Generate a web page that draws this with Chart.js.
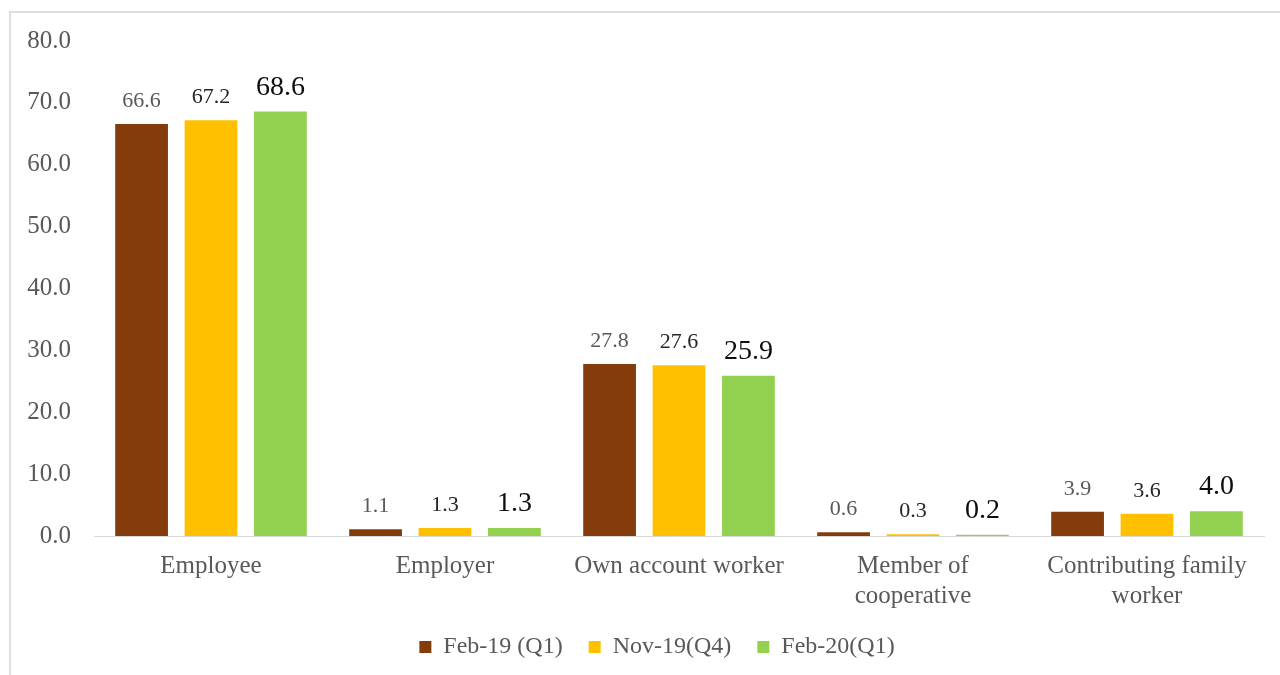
<!DOCTYPE html>
<html>
<head>
<meta charset="utf-8">
<script src="https://cdn.jsdelivr.net/npm/chart.js@4/dist/chart.umd.min.js"></script>
<style>
  body { margin: 0; background: #fff; }
  #wrap { position: relative; width: 1280px; height: 675px; overflow: hidden; }
  #frame { position: absolute; left: 9px; top: 11px; width: 1400px; height: 800px;
           border-left: 2px solid #dedede; border-top: 2px solid #dedede; }
  canvas { position: absolute; left: 0; top: 0; }
</style>
</head>
<body>
<div id="wrap">
  <div id="frame"></div>
  <canvas id="chart" width="1280" height="675"></canvas>
</div>
<script>
const categories = ["Employee", "Employer", "Own account worker", ["Member of", "cooperative"], ["Contributing family", "worker"]];
const seriesNames = ["Feb-19 (Q1)", "Nov-19(Q4)", "Feb-20(Q1)"];
const feb19 = [66.6, 1.1, 27.8, 0.6, 3.9];
const nov19 = [67.2, 1.3, 27.6, 0.3, 3.6];
const feb20 = [68.6, 1.3, 25.9, 0.2, 4.0];

const colors = ["#843C0C", "#FFC000", "#92D050"];
const labelColors = ["#595959", "#262626", "#0d0d0d"];
const labelSizes = [22, 22, 28];
const fontFamily = "'Liberation Serif', 'Times New Roman', serif";

// value labels above each bar
const barLabels = {
  id: 'barLabels',
  afterLayout(chart) {
    // legend sits a bit right of centre in the original
    chart.legend.left += 25;
    chart.legend.right += 25;
  },
  afterDatasetsDraw(chart) {
    const c = chart.ctx;
    chart.data.datasets.forEach((ds, i) => {
      chart.getDatasetMeta(i).data.forEach((bar, j) => {
        c.save();
        c.font = labelSizes[i] + "px " + fontFamily;
        c.fillStyle = labelColors[i];
        c.textAlign = "center";
        c.textBaseline = "alphabetic";
        c.fillText(ds.data[j].toFixed(1), bar.x, bar.y - 17);
        c.restore();
      });
    });
  }
};

const ctx = document.getElementById('chart').getContext('2d');
new Chart(ctx, {
  type: 'bar',
  data: {
    labels: categories,
    datasets: [feb19, nov19, feb20].map((d, i) => ({
      label: seriesNames[i],
      data: d,
      backgroundColor: colors[i],
      categoryPercentage: 0.89,
      barPercentage: 0.76
    }))
  },
  options: {
    responsive: false,
    animation: false,
    layout: { padding: { left: 0, right: 16, top: 41, bottom: 6 } },
    plugins: {
      tooltip: { enabled: false },
      legend: {
        position: 'bottom',
        labels: {
          boxWidth: 12,
          boxHeight: 12,
          padding: 26,
          color: "#595959",
          font: { family: fontFamily, size: 24 }
        }
      }
    },
    scales: {
      x: {
        grid: { display: false, drawTicks: false },
        border: { display: true, color: "#d9d9d9", width: 1 },
        ticks: {
          color: "#595959",
          padding: 15,
          maxRotation: 0,
          font: { family: fontFamily, size: 25, lineHeight: 1.2 }
        },
        afterFit: s => { s.height = 73; }
      },
      y: {
        min: 0,
        max: 80,
        grid: { display: false, drawTicks: false },
        border: { display: false },
        ticks: {
          stepSize: 10,
          color: "#595959",
          padding: 23,
          font: { family: fontFamily, size: 25 },
          callback: v => v.toFixed(1)
        },
        afterFit: s => { s.width = 94; }
      }
    }
  },
  plugins: [barLabels]
});
</script>
</body>
</html>
